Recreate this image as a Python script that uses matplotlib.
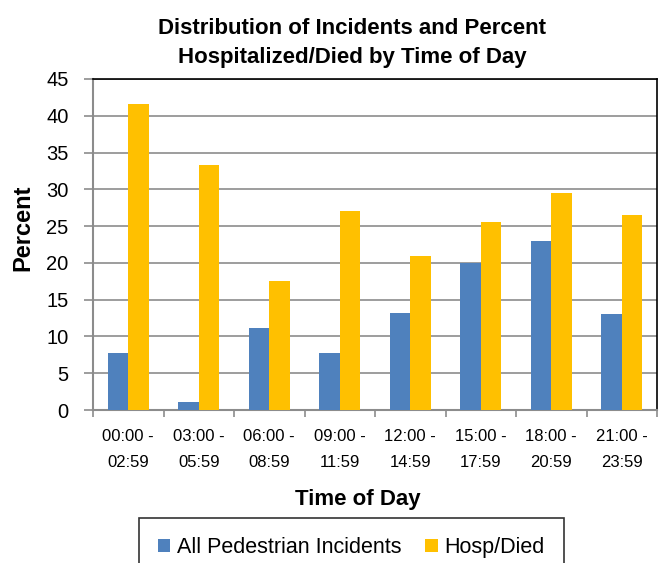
import matplotlib.pyplot as plt
import numpy as np

plt.rcParams['font.family'] = ['Liberation Sans', 'DejaVu Sans']

periods = ['00:00 -\n02:59', '03:00 -\n05:59', '06:00 -\n08:59', '09:00 -\n11:59',
           '12:00 -\n14:59', '15:00 -\n17:59', '18:00 -\n20:59', '21:00 -\n23:59']
all_incidents = [7.8, 1.1, 11.1, 7.8, 13.2, 20.0, 23.0, 13.0]
hosp_died = [41.6, 33.3, 17.6, 27.0, 20.9, 25.5, 29.5, 26.5]

W, H = 662, 563
fig = plt.figure(figsize=(W/100, H/100), dpi=100)
ax = fig.add_axes([93/W, 1 - 410/H, 564/W, 331/H])

x = np.arange(len(periods))
w = 0.29
ax.bar(x - w/2, all_incidents, w, color='#4F81BD', label='All Pedestrian Incidents', zorder=3)
ax.bar(x + w/2, hosp_died, w, color='#FFC000', label='Hosp/Died', zorder=3)

ax.set_xlim(-0.5, len(periods) - 0.5)
ax.set_ylim(0, 45)
ax.set_yticks(range(0, 46, 5))
ax.yaxis.grid(True, color='#8c8c8c', linewidth=1.2, zorder=0)
ax.tick_params(axis='y', labelsize=14.5, length=6.5, color='#8c8c8c', width=1.2, pad=11)

ax.set_xticks(x)
ax.set_xticklabels(periods, fontsize=12, linespacing=1.9)
ax.set_xticks(np.arange(-0.5, len(periods)), minor=True)
ax.tick_params(axis='x', which='major', length=0, pad=14)
ax.tick_params(axis='x', which='minor', length=5, color='#8c8c8c', width=1.2)

for s in ['left', 'bottom']:
    ax.spines[s].set_color('#8c8c8c')
    ax.spines[s].set_linewidth(1.5)
for s in ['top', 'right']:
    ax.spines[s].set_color('black')
    ax.spines[s].set_linewidth(1.2)

ax.set_ylabel('Percent', fontsize=17, fontweight='bold', va='center')
ax.yaxis.set_label_coords(-70/564, 1 - (228 - 79)/331)
ax.set_xlabel('Time of Day', fontsize=16, fontweight='bold', va='baseline')
ax.xaxis.set_label_coords((358 - 93)/564, -(505 - 410)/331)

fig.text(352/W, 1 - 34/H, 'Distribution of Incidents and Percent',
         fontsize=16, fontweight='bold', ha='center', va='baseline')
fig.text(352/W, 1 - 63/H, 'Hospitalized/Died by Time of Day',
         fontsize=16, fontweight='bold', ha='center', va='baseline')

leg = fig.legend(loc='upper center', bbox_to_anchor=(351.5/W, 1 - 518/H), ncol=2,
                 fontsize=15.5, frameon=True, fancybox=False, edgecolor='black',
                 handlelength=0.56, handleheight=0.56, handletextpad=0.33,
                 columnspacing=1.1, borderpad=0.9, borderaxespad=0)
leg.get_frame().set_linewidth(1.2)

fig.savefig('out.png', dpi=100)
